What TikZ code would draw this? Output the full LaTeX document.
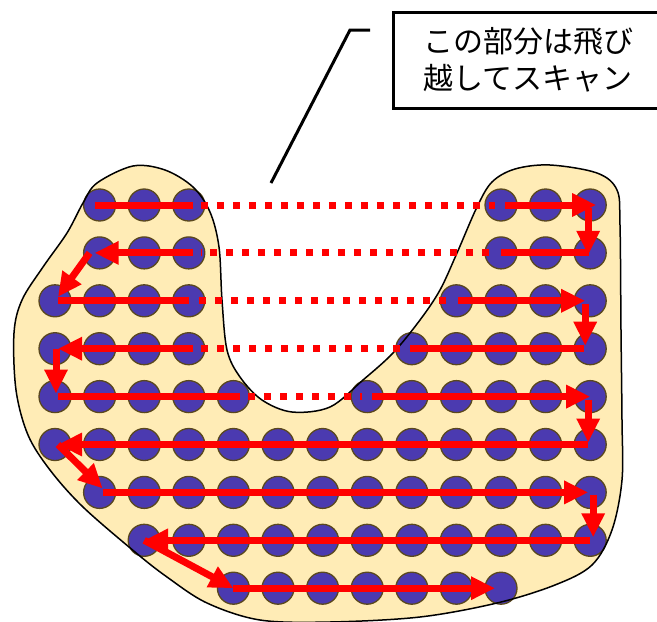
\documentclass[tikz,border=0pt]{standalone}
\usepackage{fontspec}
\newfontfamily\jfont{Noto Sans CJK JP}
\usetikzlibrary{arrows.meta}
\definecolor{blob}{RGB}{255,236,182}
\definecolor{dot}{RGB}{75,58,176}
\definecolor{dotrim}{RGB}{90,72,30}
\definecolor{scan}{RGB}{255,0,0}
\begin{document}
\begin{tikzpicture}[x=1pt,y=-1pt,
  cell/.style={circle,minimum size=32pt,inner sep=0pt,fill=dot,draw=dotrim,line width=1.3pt},
  scanline/.style={draw=scan,line width=7pt},
  scanarrow/.style={scanline,-{Triangle[width=22pt,length=24pt]}},
  skipline/.style={draw=scan,line width=7pt,dash pattern=on 7pt off 9pt},
  outline/.style={draw=black,line width=1.5pt},
]
\useasboundingbox (0,0) rectangle (657,622);
\def\blobpath{plot[smooth cycle,tension=0.55] coordinates {
 (97,183) (133,166) (165,170) (193,187) (210,212) (219,247) (222,300) (227,350)
 (240,377) (262,400) (292,412) (330,407) (363,380) (393,353) (420,320) (440,290)
 (457,253) (477,207) (492,182) (515,169) (550,165) (597,173) (617,190) (620,225)
 (621,330) (622,420) (622,480) (612,530) (592,565) (555,585) (497,603) (420,617)
 (330,622) (260,620) (207,603) (167,577) (135,552) (83,507) (50,470) (28,435) (16,390)
 (14,333) (22,300) (43,267) (67,233) (83,203)}}
\fill[blob] \blobpath;
\foreach \r/\cols in {0/{1,2,3,10,11,12},1/{1,2,3,10,11,12},2/{0,1,2,3,9,10,11,12},
  3/{0,1,2,3,8,9,10,11,12},4/{0,1,2,3,4,7,8,9,10,11,12},5/{0,...,12},6/{1,...,12},
  7/{2,...,12},8/{4,...,10}}
  \foreach \c in \cols
    \node[cell] (c-\r-\c) at ({55+44.6*\c},{205+47.9*\r}) {};
\draw[outline] \blobpath;
% row 0
\draw[scanline] ([xshift=-5pt]c-0-1.center) -- ([xshift=4pt]c-0-3.center);
\draw[skipline] ([xshift=12pt]c-0-3.center) -- ([xshift=-6pt]c-0-10.center);
\draw[scanarrow] ([xshift=4pt]c-0-10.center) -- ([xshift=6pt]c-0-12.center);
\draw[scanarrow] ([xshift=-2pt,yshift=-3pt]c-0-12.center) -- ([xshift=-2pt,yshift=-2pt]c-1-12.center);
% row 1
\draw[scanline] ([xshift=-1pt]c-1-12.center) -- (c-1-10.center);
\draw[skipline] ([xshift=-12pt]c-1-10.center) -- ([xshift=12pt]c-1-3.center);
\draw[scanarrow] ([xshift=4pt]c-1-3.center) -- ([xshift=-5pt]c-1-1.center);
\draw[scanarrow] ([xshift=-10pt]c-1-1.center) -- ([xshift=3pt,yshift=4pt]c-2-0.center);
% row 2
\draw[scanline] ([xshift=3pt]c-2-0.center) -- (c-2-3.center);
\draw[skipline] ([xshift=10pt]c-2-3.center) -- ([xshift=-6pt]c-2-9.center);
\draw[scanarrow] ([xshift=2pt]c-2-9.center) -- ([xshift=-5pt]c-2-12.center);
\draw[scanarrow] ([xshift=-5pt,yshift=-3pt]c-2-12.center) -- ([xshift=-5pt,yshift=3pt]c-3-12.center);
% row 3
\draw[scanline] ([xshift=-6pt]c-3-12.center) -- ([xshift=-2pt]c-3-8.center);
\draw[skipline] ([xshift=-12pt]c-3-8.center) -- ([xshift=12pt]c-3-3.center);
\draw[scanarrow] ([xshift=4pt]c-3-3.center) -- ([xshift=3pt]c-3-0.center);
\draw[scanarrow] ([xshift=1pt]c-3-0.center) -- ([xshift=1pt,yshift=3pt]c-4-0.center);
% row 4
\draw[scanline] ([xshift=3pt]c-4-0.center) -- ([xshift=7pt]c-4-4.center);
\draw[skipline] ([xshift=15pt]c-4-4.center) -- ([xshift=-5pt]c-4-7.center);
\draw[scanarrow] ([xshift=5pt]c-4-7.center) -- (c-4-12.center);
\draw[scanarrow] ([xshift=-2pt,yshift=-3pt]c-4-12.center) -- ([xshift=-2pt,yshift=2pt]c-5-12.center);
% row 5
\draw[scanarrow] ([xshift=-2pt]c-5-12.center) -- ([xshift=3pt]c-5-0.center);
\draw[scanarrow] ([xshift=3pt]c-5-0.center) -- ([xshift=3pt,yshift=4pt]c-6-1.center);
% row 6
\draw[scanarrow] ([xshift=3pt]c-6-1.center) -- ([xshift=-2pt]c-6-12.center);
\draw[scanarrow] ([xshift=3pt,yshift=-3pt]c-6-12.center) -- ([xshift=3pt,yshift=3pt]c-7-12.center);
% row 7
\draw[scanarrow] (c-7-12.center) -- (c-7-2.center);
\draw[scanarrow] (c-7-2.center) -- (c-8-4.center);
% row 8
\draw[scanarrow] (c-8-4.center) -- ([xshift=-6pt]c-8-10.center);
% note
\node[draw,line width=3pt,minimum width=270pt,minimum height=96pt,inner sep=0pt,
  align=center,font=\jfont\fontsize{30}{37}\selectfont] (note) at (528,60)
  {この部分は飛び\\越してスキャン};
\coordinate (k1) at (370,30);
\coordinate (k2) at (350,30);
\coordinate (k3) at (271,183);
\draw[line width=3pt] (k1) -- (k2) -- (k3);
\end{tikzpicture}
\end{document}
